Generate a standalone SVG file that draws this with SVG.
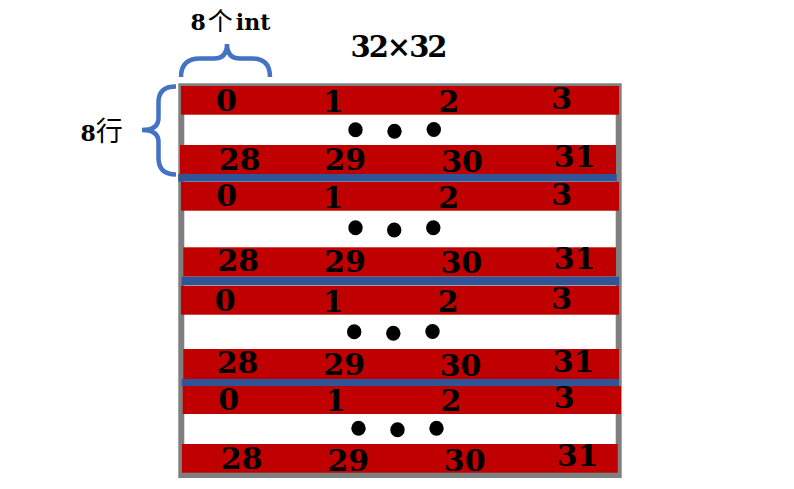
<svg xmlns="http://www.w3.org/2000/svg" width="794" height="489" viewBox="0 0 794 489">
<style>
.red{fill:#C00000}
.blue{fill:#2F5597}
.num{font-family:"DejaVu Serif","Liberation Serif",serif;font-weight:bold;font-size:30px;fill:#000;text-anchor:middle}
.lbl{font-family:"DejaVu Serif","Liberation Serif",serif;font-weight:bold;fill:#000}
.cjk{font-family:"Noto Sans CJK SC",sans-serif;font-weight:normal}
.brace{fill:none;stroke:#4472C4;stroke-width:4.5}
.dot{fill:#000}
</style>
<rect width="794" height="489" fill="#fff"/>
<g id="frame">
<rect x="181.3" y="86.3" width="437.4" height="388.7" fill="none" stroke="#7F7F7F" stroke-width="6"/>
</g>
<g id="block1">
<rect class="red" x="181" y="86" width="438" height="28.7"/>
<rect class="red" x="180" y="145" width="436" height="29"/>
<text class="num" x="226.5" y="110.5">0</text>
<text class="num" x="333.5" y="112">1</text>
<text class="num" x="449" y="112">2</text>
<text class="num" x="561.7" y="109">3</text>
<ellipse class="dot" cx="355.5" cy="129.8" rx="7.2" ry="7.5"/>
<ellipse class="dot" cx="394.5" cy="131.2" rx="7.2" ry="7.5"/>
<ellipse class="dot" cx="433.8" cy="129.5" rx="7.2" ry="7.5"/>
<text class="num" x="239.7" y="170">28</text>
<text class="num" x="345.3" y="170">29</text>
<text class="num" x="462" y="172">30</text>
<text class="num" x="574.7" y="167.3">31</text>
</g>
<g id="block2">
<rect class="red" x="181" y="182" width="438" height="28.7"/>
<rect class="red" x="183.3" y="247.3" width="432.7" height="29.4"/>
<text class="num" x="226.7" y="206">0</text>
<text class="num" x="333.3" y="207.5">1</text>
<text class="num" x="448.7" y="207.5">2</text>
<text class="num" x="561.7" y="204.5">3</text>
<ellipse class="dot" cx="355.5" cy="227.8" rx="7.2" ry="7.5"/>
<ellipse class="dot" cx="394.2" cy="230" rx="7.2" ry="7.5"/>
<ellipse class="dot" cx="433.3" cy="227.8" rx="7.2" ry="7.5"/>
<text class="num" x="238.3" y="270.5">28</text>
<text class="num" x="345" y="271.5">29</text>
<text class="num" x="461.3" y="272.5">30</text>
<text class="num" x="574.5" y="268.5">31</text>
</g>
<g id="block3">
<rect class="red" x="181" y="285.7" width="438" height="29"/>
<rect class="red" x="183.3" y="349" width="435.7" height="30"/>
<text class="num" x="225.3" y="310.5">0</text>
<text class="num" x="333.3" y="312.3">1</text>
<text class="num" x="448.3" y="312.3">2</text>
<text class="num" x="561.7" y="309.3">3</text>
<ellipse class="dot" cx="354.2" cy="331.7" rx="7.2" ry="7.5"/>
<ellipse class="dot" cx="393.3" cy="333.2" rx="7.2" ry="7.5"/>
<ellipse class="dot" cx="432.5" cy="331.5" rx="7.2" ry="7.5"/>
<text class="num" x="237.5" y="373.3">28</text>
<text class="num" x="344.2" y="375">29</text>
<text class="num" x="460.5" y="375.5">30</text>
<text class="num" x="573.7" y="372.3">31</text>
</g>
<g id="block4">
<rect class="red" x="182.7" y="386" width="438.3" height="28"/>
<rect class="red" x="182" y="444" width="435.7" height="28.7"/>
<text class="num" x="228.7" y="410">0</text>
<text class="num" x="335.8" y="411">1</text>
<text class="num" x="451" y="411">2</text>
<text class="num" x="564.3" y="407.7">3</text>
<ellipse class="dot" cx="358.5" cy="428.3" rx="7.2" ry="7.5"/>
<ellipse class="dot" cx="397.5" cy="429.8" rx="7.2" ry="7.5"/>
<ellipse class="dot" cx="436.5" cy="428.3" rx="7.2" ry="7.5"/>
<text class="num" x="241.7" y="469">28</text>
<text class="num" x="348.3" y="470.5">29</text>
<text class="num" x="464.7" y="471">30</text>
<text class="num" x="577.5" y="466">31</text>
</g>
<g id="separators">
<rect class="blue" x="178.3" y="174" width="438.4" height="7.7"/>
<rect class="blue" x="181.7" y="276.7" width="437.3" height="8.6"/>
<rect class="blue" x="181.7" y="379" width="437.3" height="7"/>
</g>
<g id="title">
<text class="lbl" x="399" y="56.5" font-size="29" text-anchor="middle" textLength="97">32×32</text>
</g>
<g id="col-label">
<path class="brace" d="M181,77 Q181,58.5 200,58.5 L214,58.5 Q227,58.5 227,44 Q227,58.5 240,58.5 L252,58.5 Q270,58.5 270,77"/>
<text class="lbl" x="190.5" y="30" font-size="22">8<tspan class="cjk" font-size="25" dx="2">个</tspan><tspan dx="3">int</tspan></text>
</g>
<g id="row-label">
<path class="brace" d="M176,86.5 Q158.5,86.5 158.5,102 L158.5,118 Q158.5,130 142,130 Q158.5,130 158.5,142 L158.5,158 Q158.5,174.5 176,174.5"/>
<text class="lbl" x="80.5" y="141" font-size="22">8<tspan class="cjk" font-size="27">行</tspan></text>
</g>
</svg>
